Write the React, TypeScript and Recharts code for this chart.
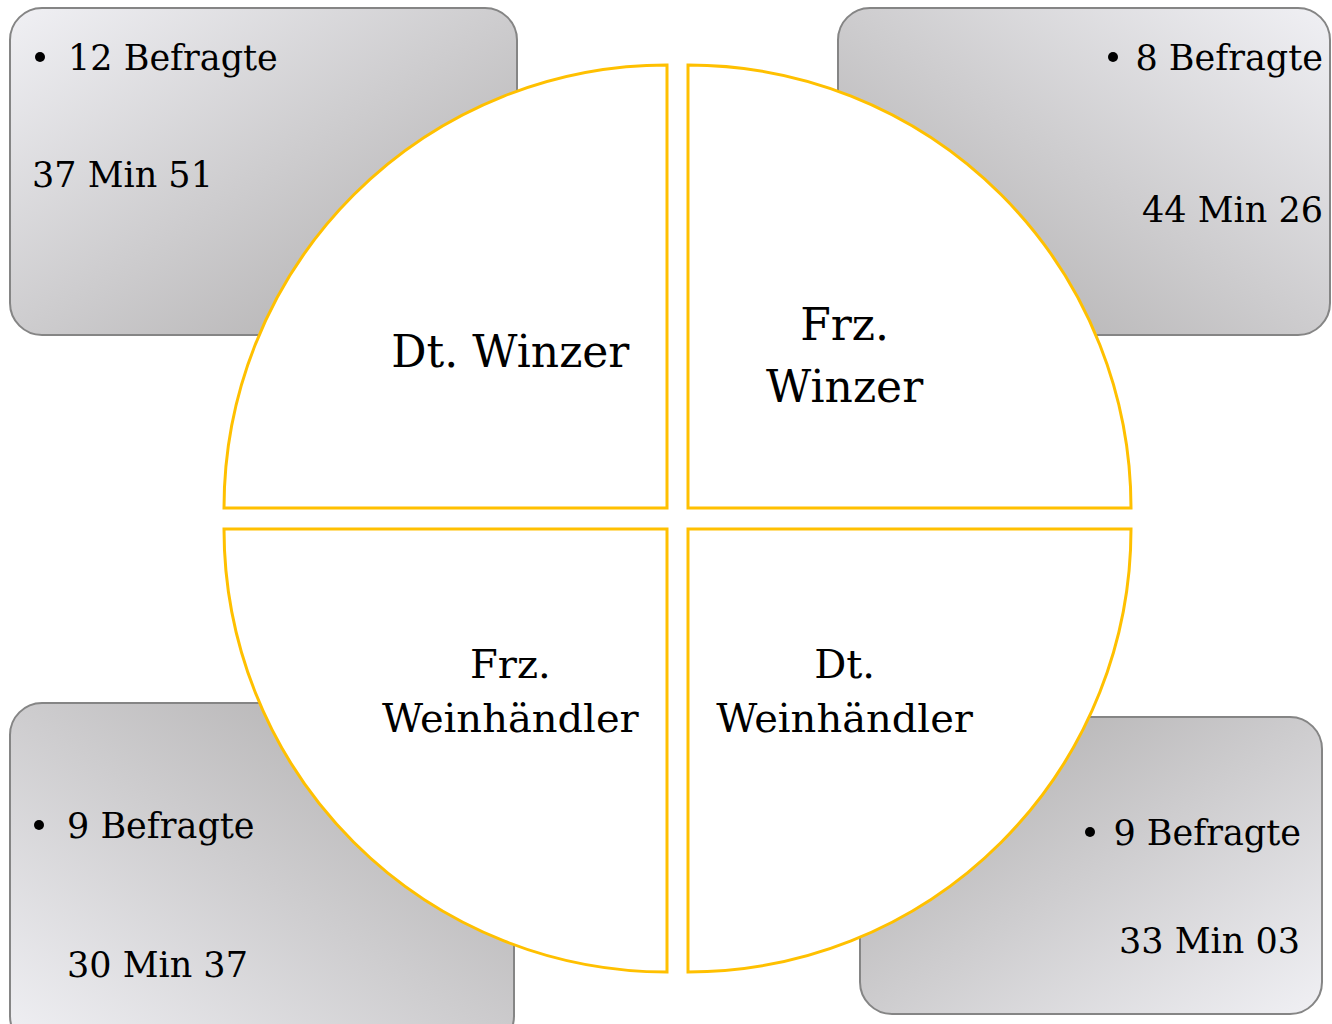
import { Customized, Pie, PieChart } from "recharts";

// quadrant order: top-left, top-right, bottom-left, bottom-right
const SEGMENT_LINES = [
  ["Dt. Winzer"],
  ["Frz.", "Winzer"],
  ["Frz.", "Weinhändler"],
  ["Dt.", "Weinhändler"],
];
const RESPONDENTS = [12, 8, 9, 9];
const DURATIONS = ["37 Min 51", "44 Min 26", "30 Min 37", "33 Min 03"];

const W = 1332;
const H = 1024;
const CX = 677.5;
const CY = 518.5;
const GAP = 10.5;
const R = 443;
const FONT = "'DejaVu Serif', serif";
const YELLOW = "#FFC000";

const QUADRANTS = [
  { sx: -1, sy: -1, start: 180, end: 90, fontSize: 44, lineGap: 62, lift: 11 },
  { sx: 1, sy: -1, start: 90, end: 0, fontSize: 44, lineGap: 62, lift: 11 },
  { sx: -1, sy: 1, start: 270, end: 180, fontSize: 40, lineGap: 54, lift: 8 },
  { sx: 1, sy: 1, start: 360, end: 270, fontSize: 40, lineGap: 54, lift: 8 },
];

// callout boxes behind the circle
const BOXES = [
  { x: 10, y: 8, w: 507, h: 327, grad: [0, 0, 1, 1], align: "start", bulletX: 40, textX: 68, y1: 70, tx2: 32, y2: 187 },
  { x: 838, y: 8, w: 492, h: 327, grad: [1, 0, 0, 1], align: "end", bulletX: 1113, textX: 1323, y1: 70, tx2: 1323, y2: 222 },
  { x: 10, y: 703, w: 504, h: 345, grad: [0, 1, 1, 0], align: "start", bulletX: 39, textX: 67, y1: 838, tx2: 67, y2: 977 },
  { x: 860, y: 717, w: 462, h: 297, grad: [1, 1, 0, 0], align: "end", bulletX: 1090, textX: 1301, y1: 845, tx2: 1300, y2: 953 },
];

function Boxes() {
  return (
    <g>
      <defs>
        {BOXES.map((b, i) => (
          <linearGradient
            key={i}
            id={`boxGrad${i}`}
            x1={b.grad[0]}
            y1={b.grad[1]}
            x2={b.grad[2]}
            y2={b.grad[3]}
          >
            <stop offset="0%" stopColor="#f0f0f4" />
            <stop offset="100%" stopColor="#aba9a9" />
          </linearGradient>
        ))}
      </defs>
      {BOXES.map((b, i) => (
        <g key={i}>
          <rect
            x={b.x}
            y={b.y}
            width={b.w}
            height={b.h}
            rx={32}
            ry={32}
            fill={`url(#boxGrad${i})`}
            stroke="#858585"
            strokeWidth={2}
          />
          <circle cx={b.bulletX} cy={b.y1 - 13} r={5} fill="#000" />
          <text
            x={b.textX}
            y={b.y1}
            textAnchor={b.align}
            fontFamily={FONT}
            fontSize={35}
            fill="#000"
          >
            {`${RESPONDENTS[i]} Befragte`}
          </text>
          <text
            x={b.tx2}
            y={b.y2}
            textAnchor={b.align}
            fontFamily={FONT}
            fontSize={35}
            fill="#000"
          >
            {DURATIONS[i]}
          </text>
        </g>
      ))}
    </g>
  );
}

const makeLabel = (q: (typeof QUADRANTS)[number]) => (props: any) => {
  const { cx, cy, midAngle, outerRadius } = props;
  const lines: string[] = props.payload?.lines ?? props.lines ?? [];
  const rad = (midAngle * Math.PI) / 180;
  const x = cx + 0.5 * outerRadius * Math.cos(rad);
  const y = cy - 0.5 * outerRadius * Math.sin(rad);
  const first = lines.length === 1 ? y + 16 : y - q.lift;
  return (
    <text
      x={x}
      y={first}
      textAnchor="middle"
      fontFamily={FONT}
      fontSize={q.fontSize}
      fill="#000"
    >
      {lines.map((l, i) => (
        <tspan key={i} x={x} y={first + i * q.lineGap}>
          {l}
        </tspan>
      ))}
    </text>
  );
};

export default function App() {
  return (
    <div style={{ position: "absolute", left: 0, top: 0, width: W, height: H, background: "#fff" }}>
      <PieChart width={W} height={H} margin={{ top: 0, right: 0, bottom: 0, left: 0 }}>
        <Customized component={Boxes} />
        {SEGMENT_LINES.map((lines, i) => {
          const q = QUADRANTS[i];
          return (
            <Pie
              key={i}
              data={[{ name: lines.join(" "), value: 1, lines }]}
              dataKey="value"
              cx={CX + q.sx * GAP}
              cy={CY + q.sy * GAP}
              outerRadius={R}
              innerRadius={0}
              startAngle={q.start}
              endAngle={q.end}
              fill="#ffffff"
              stroke={YELLOW}
              strokeWidth={3}
              label={makeLabel(q)}
              labelLine={false}
              isAnimationActive={false}
            />
          );
        })}
      </PieChart>
    </div>
  );
}
